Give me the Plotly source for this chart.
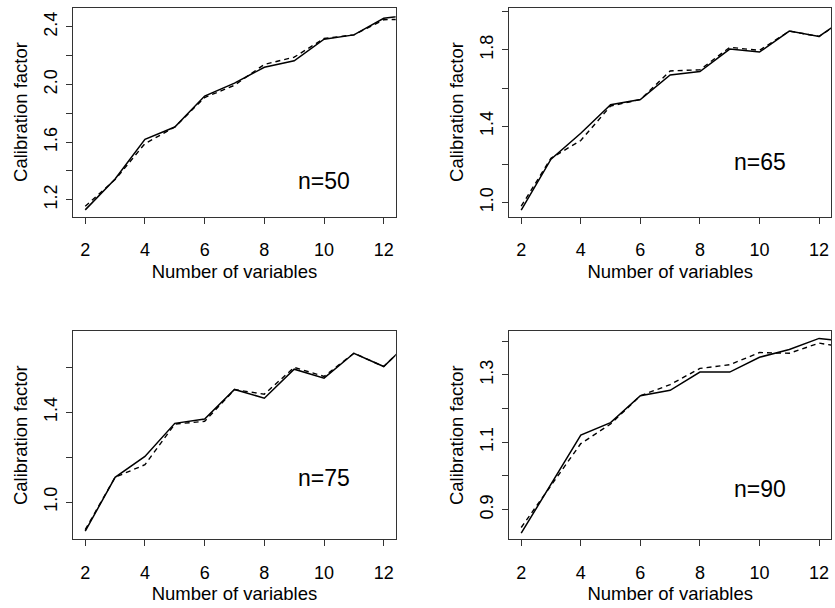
import plotly.graph_objects as go

# ---- data ----
n_vars = [2, 3, 4, 5, 6, 7, 8, 9, 10, 11, 12, 13]

n50_solid = [1.13, 1.345, 1.62, 1.705, 1.92, 2.01, 2.12, 2.165, 2.315, 2.345, 2.46, 2.485]
n50_dashed = [1.155, 1.34, 1.59, 1.705, 1.91, 1.995, 2.14, 2.19, 2.32, 2.345, 2.45, 2.455]

n65_solid = [0.96, 1.227, 1.363, 1.513, 1.54, 1.669, 1.687, 1.805, 1.789, 1.899, 1.871, 1.98]
n65_dashed = [0.98, 1.232, 1.325, 1.506, 1.54, 1.69, 1.696, 1.814, 1.798, 1.899, 1.871, 1.975]

n75_solid = [0.87, 1.11, 1.203, 1.35, 1.369, 1.501, 1.462, 1.591, 1.551, 1.662, 1.603, 1.73]
n75_dashed = [0.877, 1.11, 1.166, 1.347, 1.359, 1.50, 1.48, 1.599, 1.559, 1.662, 1.603, 1.73]

n90_solid = [0.83, 0.976, 1.121, 1.158, 1.238, 1.254, 1.308, 1.308, 1.352, 1.375, 1.408, 1.398]
n90_dashed = [0.847, 0.972, 1.096, 1.154, 1.238, 1.271, 1.319, 1.330, 1.366, 1.364, 1.394, 1.38]

panel_labels = ["n=50", "n=65", "n=75", "n=90"]
label_y = [1.33, 1.212, 1.107, 0.962]

x_ticks = [2, 4, 6, 8, 10, 12]
y_tickvals = [
    [1.2, 1.4, 1.6, 1.8, 2.0, 2.2, 2.4],
    [1.0, 1.2, 1.4, 1.6, 1.8, 2.0],
    [1.0, 1.2, 1.4, 1.6],
    [0.9, 1.0, 1.1, 1.2, 1.3, 1.4],
]
y_ticktext = [
    ["1.2", "", "1.6", "", "2.0", "", "2.4"],
    ["1.0", "", "1.4", "", "1.8", ""],
    ["1.0", "", "1.4", ""],
    ["0.9", "", "1.1", "", "1.3", ""],
]
y_ranges = [[1.084, 2.535], [0.926, 2.023], [0.834, 1.761], [0.812, 1.430]]
x_range = [1.6, 12.4]

series = [
    (n50_solid, n50_dashed),
    (n65_solid, n65_dashed),
    (n75_solid, n75_dashed),
    (n90_solid, n90_dashed),
]

W, H = 835, 608
# plot boxes in pixels (left, right, top, bottom)
boxes = [
    (73.3, 395.7, 7.5, 216.5),
    (509.3, 831.0, 7.5, 216.5),
    (73.3, 395.7, 331.0, 539.3),
    (509.3, 831.0, 331.0, 539.3),
]

FONT = "Liberation Sans, Arial, Helvetica, sans-serif"
fig = go.Figure()
layout = dict(
    width=W, height=H,
    margin=dict(l=0, r=0, t=0, b=0),
    paper_bgcolor="white", plot_bgcolor="white",
    showlegend=False,
    font=dict(family=FONT, size=18, color="black"),
    annotations=[],
)

for i, (sol, das) in enumerate(series):
    k = "" if i == 0 else str(i + 1)
    xa, ya = "x" + k, "y" + k
    fig.add_trace(go.Scatter(x=n_vars, y=sol, mode="lines", xaxis=xa, yaxis=ya,
                             line=dict(color="black", width=1.5)))
    fig.add_trace(go.Scatter(x=n_vars, y=das, mode="lines", xaxis=xa, yaxis=ya,
                             line=dict(color="black", width=1.4, dash="5px,4px")))
    l, r, t, b = boxes[i]
    layout["xaxis" + k] = dict(
        domain=[l / W, r / W], anchor=ya, range=x_range,
        tickvals=x_ticks, ticks="outside", ticklen=6, tickcolor="#333",
        showline=True, mirror=True, linecolor="#333", linewidth=1,
        showgrid=False, zeroline=False, ticklabelstandoff=11,
        tickfont=dict(size=18),
        title=dict(text="Number of variables", font=dict(size=18.5), standoff=5),
    )
    layout["yaxis" + k] = dict(
        domain=[1 - b / H, 1 - t / H], anchor=xa, range=y_ranges[i],
        tickvals=y_tickvals[i], ticktext=y_ticktext[i], tickangle=-90,
        ticks="outside", ticklen=6, tickcolor="#333",
        showline=True, mirror=True, linecolor="#333", linewidth=1,
        showgrid=False, zeroline=False, ticklabelstandoff=2,
        tickfont=dict(size=18),
        title=dict(text="Calibration factor", font=dict(size=18.5), standoff=8),
    )
    layout["annotations"].append(dict(
        x=10, y=label_y[i], xref=xa, yref=ya, text=panel_labels[i],
        showarrow=False, font=dict(size=23), xanchor="center", yanchor="middle",
    ))

fig.update_layout(**layout)
fig.write_html(
    "out.html",
    config={"displayModeBar": False},
    post_script="document.body.style.margin='0';document.body.style.overflow='hidden';",
)
